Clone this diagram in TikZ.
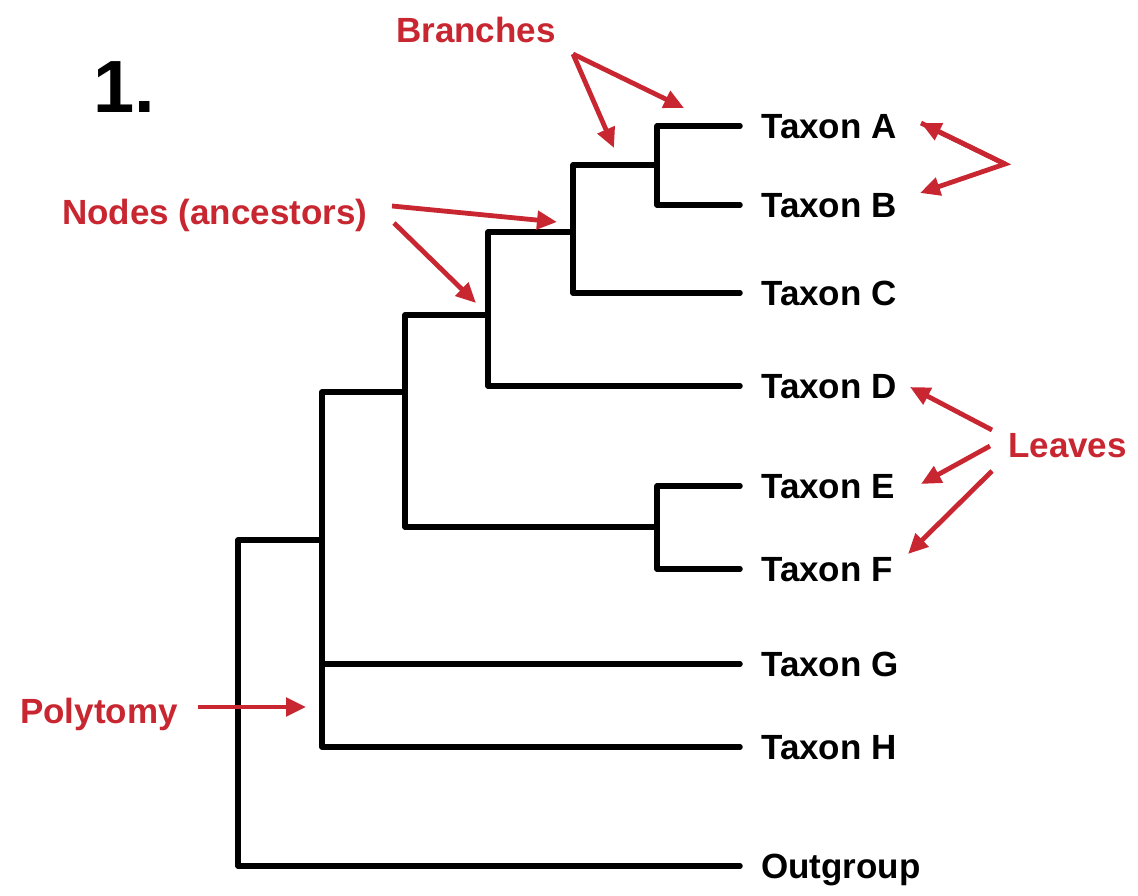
\documentclass[tikz,border=0pt]{standalone}
\usepackage{fontspec}
\setmainfont{Liberation Sans}
\usetikzlibrary{arrows.meta}
\definecolor{lblred}{RGB}{200,38,48}
\begin{document}
\begin{tikzpicture}[x=1pt,y=-1pt,
  branch/.style={line width=5.5pt,line join=round,line cap=round,black},
  taxon/.style={anchor=west,font=\fontsize{35}{40}\selectfont\bfseries,inner xsep=21pt,inner ysep=0pt,text height=25pt,text depth=0pt},
  lbl/.style={font=\fontsize{35}{40}\selectfont\bfseries,text=lblred,inner sep=0pt,text height=25pt,text depth=0pt},
  redarrow/.style={line width=4.8pt,draw=lblred,-{Triangle[length=20pt,width=18pt]}}]
\useasboundingbox (0,0) rectangle (1138,896);
% title
\node[font=\fontsize{74}{80}\selectfont\bfseries,anchor=base west,inner sep=0pt] (title) at (93,113) {1.};
% taxa
\node[taxon] (tA) at (740,126) {Taxon A};
\node[taxon] (tB) at (740,205) {Taxon B};
\node[taxon] (tC) at (740,293) {Taxon C};
\node[taxon] (tD) at (740,386) {Taxon D};
\node[taxon] (tE) at (740,486) {Taxon E};
\node[taxon] (tF) at (740,569) {Taxon F};
\node[taxon] (tG) at (740,664) {Taxon G};
\node[taxon] (tH) at (740,747) {Taxon H};
\node[taxon] (tO) at (740,866) {Outgroup};
% internal nodes (vertical bar positions)
\coordinate (nAB) at (657,165);
\coordinate (nABC) at (573,232);
\coordinate (nABCD) at (488,315);
\coordinate (nEF) at (657,527);
\coordinate (nAF) at (405,392);
\coordinate (nPoly) at (322,540);
\coordinate (nRoot) at (238,700);
% tree
\draw[branch] (tA.west) -| (nAB) |- (tB.west);
\draw[branch] (nAB) -| (nABC) |- (tC.west);
\draw[branch] (nABC) -| (nABCD) |- (tD.west);
\draw[branch] (tE.west) -| (nEF) |- (tF.west);
\draw[branch] (nABCD) -| (nAF) |- (nEF);
\draw[branch] (nAF) -| (nPoly) |- (tH.west);
\draw[branch] (nPoly |- tG.west) -- (tG.west);
\draw[branch] (nPoly) -| (nRoot) |- (tO.west);
% red labels
\node[lbl,anchor=west] (lBr) at (396,30) {Branches};
\node[lbl,anchor=west] (lNo) at (62,212) {Nodes (ancestors)};
\node[lbl,anchor=west] (lLe) at (1008,445) {Leaves};
\node[lbl,anchor=west] (lPo) at (20,711) {Polytomy};
% arrow anchors
\coordinate (brS) at (573,54);
\coordinate (brT1) at (684,108);
\coordinate (brT2) at (614,148);
\coordinate (noS1) at (392,206);
\coordinate (noT1) at (557,222);
\coordinate (noS2) at (394,223);
\coordinate (noT2) at (476,303);
\coordinate (lvApex) at (1005,164);
\coordinate (lvTA) at (921,123);
\coordinate (lvTB) at (920,193);
\coordinate (leS1) at (992,430);
\coordinate (leT1) at (910,387);
\coordinate (leS2) at (990,446);
\coordinate (leT2) at (921,484);
\coordinate (leS3) at (992,471);
\coordinate (leT3) at (908,554);
\coordinate (poS) at (198,707);
\coordinate (poT) at (306,707);
% red arrows
\draw[redarrow] (brS) -- (brT1);
\draw[redarrow] (brS) -- (brT2);
\draw[redarrow] (noS1) -- (noT1);
\draw[redarrow] (noS2) -- (noT2);
\draw[redarrow,line join=miter] (lvTA) -- (lvApex) -- (lvTB);
\draw[line width=4.8pt,draw=lblred,{Triangle[length=20pt,width=18pt]}-] (lvTA) -- (lvApex);
\draw[redarrow] (leS1) -- (leT1);
\draw[redarrow] (leS2) -- (leT2);
\draw[redarrow] (leS3) -- (leT3);
\draw[redarrow] (poS) -- (poT);
\end{tikzpicture}
\end{document}
